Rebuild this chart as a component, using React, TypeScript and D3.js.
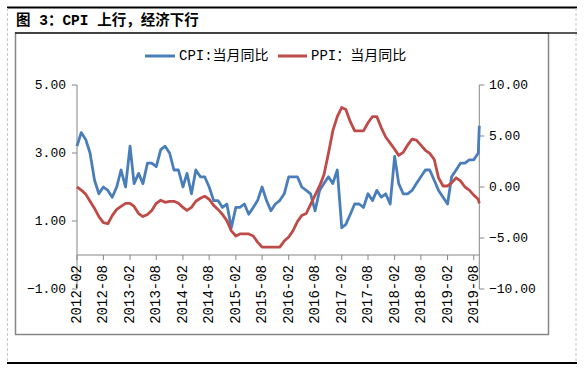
import React from "react";
import * as d3 from "d3";

// monthly readings 2012-02 .. 2019-09, the last one is the early stamp for 2019-10
const months = d3.timeMonth.range(new Date(2012, 1, 1), new Date(2019, 8, 2));
const dates = [...months, new Date(2019, 8, 8)];

const cpi = [
  3.2, 3.6, 3.4, 3.0, 2.2, 1.8, 2.0, 1.9, 1.7, 2.0, 2.5,
  2.0, 3.2, 2.1, 2.4, 2.1, 2.7, 2.7, 2.6, 3.1, 3.2, 3.0, 2.5,
  2.5, 2.0, 2.4, 1.8, 2.5, 2.3, 2.3, 2.0, 1.6, 1.6, 1.4, 1.5,
  0.8, 1.4, 1.4, 1.5, 1.2, 1.4, 1.6, 2.0, 1.6, 1.3, 1.5, 1.6,
  1.8, 2.3, 2.3, 2.3, 2.0, 1.9, 1.8, 1.3, 1.9, 2.1, 2.3, 2.1,
  2.5, 0.8, 0.9, 1.2, 1.5, 1.5, 1.4, 1.8, 1.6, 1.9, 1.7, 1.8,
  1.5, 2.9, 2.1, 1.8, 1.8, 1.9, 2.1, 2.3, 2.5, 2.5, 2.2, 1.9,
  1.7, 1.5, 2.3, 2.5, 2.7, 2.7, 2.8, 2.8, 3.0, 3.8,
];

const ppi = [
  0.0, -0.3, -0.7, -1.4, -2.1, -2.9, -3.5, -3.6, -2.8, -2.2, -1.9,
  -1.6, -1.6, -1.9, -2.6, -2.9, -2.7, -2.3, -1.6, -1.3, -1.5, -1.4, -1.4,
  -1.6, -2.0, -2.3, -2.0, -1.4, -1.1, -0.9, -1.2, -1.8, -2.2, -2.7, -3.3,
  -4.3, -4.8, -4.6, -4.6, -4.6, -4.8, -5.4, -5.9, -5.9, -5.9, -5.9, -5.9,
  -5.3, -4.9, -4.3, -3.4, -2.8, -2.6, -1.7, -0.8, 0.1, 1.2, 3.3, 5.5,
  6.9, 7.8, 7.6, 6.4, 5.5, 5.5, 5.5, 6.3, 6.9, 6.9, 5.8, 4.9,
  4.3, 3.7, 3.1, 3.4, 4.1, 4.7, 4.6, 4.1, 3.6, 3.3, 2.7, 0.9,
  0.1, 0.1, 0.4, 0.9, 0.6, 0.0, -0.3, -0.8, -1.2, -1.6,
];

const leftTicks = [5, 3, 1, -1];
const rightTicks = [10, 5, 0, -5, -10];
const labelMonths = months.filter((_, i) => i % 6 === 0);

const title = "图 3：CPI 上行，经济下行";
const cpiName = "CPI:当月同比";
const ppiName = "PPI：当月同比";

const BLUE = "#4A7EBB";
const RED = "#BE4B48";
const AXIS = "#868686";
const numFont = "'Liberation Mono', monospace";
const cjkFont = "'Liberation Mono', 'Noto Sans CJK SC', sans-serif";

export default function App() {
  const left = 77, right = 479.3, top = 85, bottom = 289;

  const x = d3.scaleTime().domain([dates[0], dates[dates.length - 1]]).range([left, right]);
  const yL = d3.scaleLinear().domain([-1, 5]).range([bottom, top]);
  const yR = d3.scaleLinear().domain([-10, 10]).range([bottom, top]);
  const axisY = yL(0);

  const cpiLine = d3.line<number>().x((_, i) => x(dates[i])).y(d => yL(d));
  const ppiLine = d3.line<number>().x((_, i) => x(dates[i])).y(d => yR(d));
  const fmt = d3.format(".2f");
  const fmtMonth = d3.timeFormat("%Y-%m");

  return (
    <svg width={584} height={369} style={{ position: "absolute", left: 0, top: 0, background: "#fff" }}>
      {/* page frame */}
      <line x1={7} x2={577} y1={7.5} y2={7.5} stroke="#000" strokeWidth={2} />
      <line x1={7} x2={577} y1={363} y2={363} stroke="#000" strokeWidth={2} />
      <line x1={7.5} x2={7.5} y1={8} y2={363} stroke="#c8c8c8" strokeDasharray="3,2" />
      <line x1={576} x2={576} y1={8} y2={363} stroke="#c8c8c8" strokeDasharray="3,2" />
      <text x={16} y={20.5} fontFamily={cjkFont} fontWeight="bold" fontSize={14.5} dominantBaseline="central">
        {title}
      </text>
      <rect x={15.5} y={33} width={533} height={301.5} fill="none" stroke={AXIS} strokeWidth={1.5} />
      <line x1={15} x2={577} y1={33} y2={33} stroke="#222" strokeWidth={1.5} />

      {/* legend */}
      <line x1={145} x2={175} y1={56} y2={56} stroke={BLUE} strokeWidth={3} />
      <text x={179} y={56} fontFamily={cjkFont} fontSize={14} dominantBaseline="central">{cpiName}</text>
      <line x1={278} x2={307} y1={56} y2={56} stroke={RED} strokeWidth={3} />
      <text x={311} y={56} fontFamily={cjkFont} fontSize={14} dominantBaseline="central">{ppiName}</text>

      {/* left axis */}
      <line x1={left} x2={left} y1={top} y2={bottom} stroke={AXIS} />
      {leftTicks.map(t => (
        <g key={"l" + t}>
          <line x1={left - 5} x2={left} y1={yL(t)} y2={yL(t)} stroke={AXIS} />
          <text x={66} y={yL(t)} textAnchor="end" dominantBaseline="central" fontFamily={numFont} fontSize={13}>
            {fmt(t)}
          </text>
        </g>
      ))}

      {/* right axis */}
      <line x1={right} x2={right} y1={top} y2={bottom} stroke={AXIS} />
      {rightTicks.map(t => (
        <g key={"r" + t}>
          <line x1={right} x2={right + 5} y1={yR(t)} y2={yR(t)} stroke={AXIS} />
          <text x={489} y={yR(t)} textAnchor="start" dominantBaseline="central" fontFamily={numFont} fontSize={13}>
            {fmt(t)}
          </text>
        </g>
      ))}

      {/* category axis */}
      <line x1={left} x2={right} y1={axisY} y2={axisY} stroke={AXIS} />
      {labelMonths.map(m => (
        <g key={+m}>
          <line x1={x(m)} x2={x(m)} y1={axisY} y2={axisY + 5} stroke={AXIS} />
          <text
            transform={`translate(${x(m)},${axisY + 10}) rotate(-90)`}
            textAnchor="end"
            dominantBaseline="central"
            fontFamily={numFont}
            fontSize={14}
          >
            {fmtMonth(m)}
          </text>
        </g>
      ))}

      {/* series */}
      <path d={cpiLine(cpi) ?? ""} fill="none" stroke={BLUE} strokeWidth={2.8} strokeLinejoin="round" />
      <path d={ppiLine(ppi) ?? ""} fill="none" stroke={RED} strokeWidth={2.8} strokeLinejoin="round" />
    </svg>
  );
}
